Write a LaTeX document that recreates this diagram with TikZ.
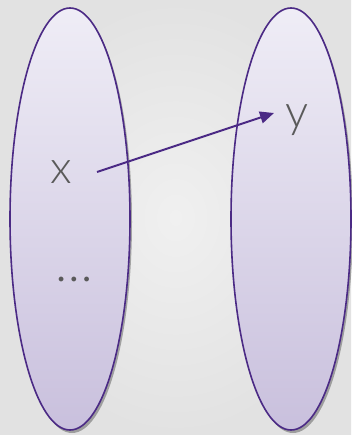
\documentclass[tikz,border=0pt]{standalone}
\usepackage{fontspec}
\setmainfont{Lato Light}
\usetikzlibrary{shapes.geometric,shadows,arrows.meta}
\definecolor{bgin}{HTML}{F0F0F0}
\definecolor{bgout}{HTML}{E2E2E2}
\definecolor{setline}{HTML}{4B2A85}
\definecolor{settop}{HTML}{EFEDF6}
\definecolor{setbot}{HTML}{C9C0DD}
\definecolor{txt}{HTML}{5A5A5A}
\tikzset{
  setbox/.style={ellipse, draw=setline, line width=1.6pt, inner sep=0pt,
    minimum width=120pt, minimum height=422pt,
    top color=settop, bottom color=setbot,
    drop shadow={shadow xshift=2pt, shadow yshift=-3pt, opacity=0.3, fill=black}},
  lbl/.style={text=txt, font=\fontsize{46}{46}\selectfont, inner sep=0pt, anchor=base},
  arr/.style={draw=setline, line width=2pt, -{Triangle[length=14pt,width=12pt]}}
}
\begin{document}
\begin{tikzpicture}[x=1pt,y=-1pt]
\useasboundingbox (0,0) rectangle (351,435);
\shade[inner color=bgin, outer color=bgout] (0,0) rectangle (351,435);
\node[setbox] (A) at (70,219) {};
\node[setbox] (B) at (291,219) {};
\node[lbl] (x) at (61,184) {x};
\node[lbl] (y) at (297,128) {y};
\node[text=txt, font=\fontsize{52}{52}\selectfont, inner sep=0pt, anchor=base] (dots) at (74,281) {…};
\coordinate (a) at (97,172);
\coordinate (b) at (274,113);
\draw[arr] (a) -- (b);
\end{tikzpicture}
\end{document}
